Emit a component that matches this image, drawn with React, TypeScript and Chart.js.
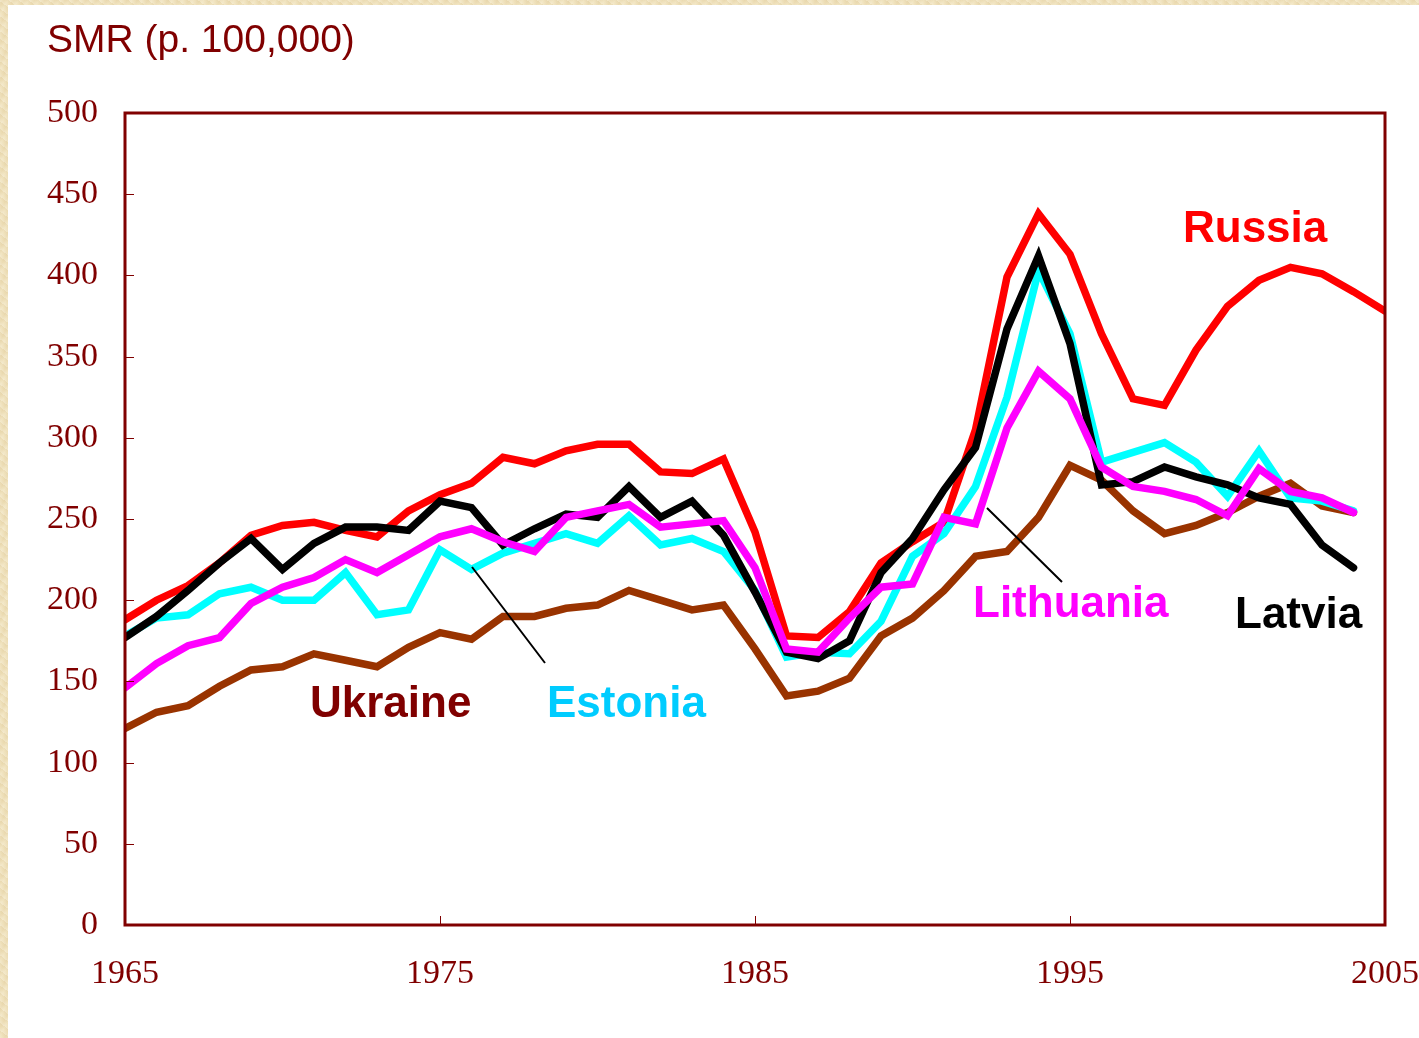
import React, { useEffect, useRef } from "react";
import { Chart, registerables } from "chart.js";

Chart.register(...registerables);

const years = [
  1965, 1966, 1967, 1968, 1969, 1970, 1971, 1972, 1973, 1974,
  1975, 1976, 1977, 1978, 1979, 1980, 1981, 1982, 1983, 1984,
  1985, 1986, 1987, 1988, 1989, 1990, 1991, 1992, 1993, 1994,
  1995, 1996, 1997, 1998, 1999, 2000, 2001, 2002, 2003, 2004, 2005,
];

const russia = [
  188, 200, 209, 223, 240, 246, 248, 243, 239, 255,
  265, 272, 288, 284, 292, 296, 296, 279, 278, 287,
  242, 178, 177, 193, 223, 236, 248, 305, 399, 438,
  413, 364, 324, 320, 354, 381, 397, 405, 401, 390, 378,
];

const latvia = [
  177, 190, 206, 223, 238, 219, 235, 245, 245, 243,
  261, 257, 234, 244, 253, 251, 270, 251, 261, 240,
  205, 168, 164, 175, 217, 238, 268, 294, 367, 412,
  358, 271, 273, 282, 276, 271, 263, 259, 234, 220,
];

const estonia = [
  178, 189, 191, 204, 208, 200, 200, 217, 191, 194,
  231, 219, 229, 235, 241, 235, 252, 234, 238, 230,
  206, 165, 168, 167, 187, 227, 241, 270, 325, 403,
  364, 285, 291, 297, 285, 264, 292, 263, 261, 255,
];

const lithuania = [
  146, 161, 172, 177, 198, 208, 214, 225, 217, 228,
  239, 244, 236, 230, 251, 255, 259, 245, 247, 249,
  220, 170, 168, 189, 208, 210, 251, 247, 306, 341,
  324, 282, 270, 267, 262, 252, 281, 267, 263, 254,
];

const ukraine = [
  121, 131, 135, 147, 157, 159, 167, 163, 159, 171,
  180, 176, 190, 190, 195, 197, 206, 200, 194, 197,
  170, 141, 144, 152, 178, 189, 206, 227, 230, 251,
  283, 274, 255, 241, 246, 254, 264, 272, 258, 254,
];

const yTickMarks = [50, 100, 150, 200, 250, 300, 350, 400, 450];
const xTickMarks = [1975, 1985, 1995];

const AXIS_COLOR = "#800000";

export default function App() {
  const ref = useRef<HTMLCanvasElement>(null);

  useEffect(() => {
    document.body.style.margin = "0";
    const canvas = ref.current;
    if (!canvas) return;

    const pts = (vals: number[]) => vals.map((v, i) => ({ x: years[i], y: v }));

    const overlay = {
      id: "overlay",
      afterDatasetsDraw(chart: any) {
        const { ctx, chartArea } = chart;
        const xs = chart.scales.x;
        const ys = chart.scales.y;
        ctx.save();
        // inward tick marks
        ctx.strokeStyle = AXIS_COLOR;
        ctx.lineWidth = 1;
        ctx.beginPath();
        for (const v of yTickMarks) {
          const py = Math.round(ys.getPixelForValue(v)) + 0.5;
          ctx.moveTo(chartArea.left, py);
          ctx.lineTo(chartArea.left + 9, py);
        }
        for (const v of xTickMarks) {
          const px = Math.round(xs.getPixelForValue(v)) + 0.5;
          ctx.moveTo(px, chartArea.bottom);
          ctx.lineTo(px, chartArea.bottom - 9);
        }
        ctx.stroke();
        // frame
        ctx.lineWidth = 3;
        ctx.strokeRect(chartArea.left, chartArea.top, chartArea.right - chartArea.left, chartArea.bottom - chartArea.top);

        // leader lines
        ctx.strokeStyle = "#000000";
        ctx.lineWidth = 2;
        ctx.beginPath();
        ctx.moveTo(464, 562);
        ctx.lineTo(537, 658);
        ctx.moveTo(979, 503);
        ctx.lineTo(1054, 577);
        ctx.stroke();

        // series labels
        ctx.font = "bold 44px 'Liberation Sans', Arial, sans-serif";
        ctx.textAlign = "left";
        ctx.textBaseline = "alphabetic";
        const labels: [string, string, number, number][] = [
          ["Russia", "#FF0000", 1175, 237],
          ["Latvia", "#000000", 1227, 623],
          ["Lithuania", "#FF00FF", 965, 612],
          ["Ukraine", "#800000", 302, 712],
          ["Estonia", "#00CCFF", 539, 712],
        ];
        for (const [t, c, x, y] of labels) {
          ctx.fillStyle = c;
          ctx.fillText(t, x, y);
        }

        // title
        ctx.font = "39px 'Liberation Sans', Arial, sans-serif";
        ctx.fillStyle = AXIS_COLOR;
        ctx.fillText("SMR (p. 100,000)", 39, 47);
        ctx.restore();
      },
    };

    const line = (label: string, vals: number[], color: string) => ({
      label,
      data: pts(vals),
      borderColor: color,
      backgroundColor: color,
      borderWidth: 7.5,
      pointRadius: 0,
      borderCapStyle: "round" as const,
      borderJoinStyle: "miter" as const,
      tension: 0,
      fill: false,
      clip: 0,
    });

    const chart = new Chart(canvas, {
      type: "line",
      data: {
        datasets: [
          line("Lithuania", lithuania, "#FF00FF"),
          line("Latvia", latvia, "#000000"),
          line("Estonia", estonia, "#00FFFF"),
          line("Russia", russia, "#FF0000"),
          line("Ukraine", ukraine, "#993300"),
        ],
      },
      options: {
        animation: false,
        responsive: false,
        maintainAspectRatio: false,
        layout: { padding: { top: 108, left: 0, right: 34, bottom: 0 } },
        plugins: {
          legend: { display: false },
          tooltip: { enabled: false },
          title: { display: false },
        },
        scales: {
          x: {
            type: "linear",
            min: 1965,
            max: 2005,
            grid: { display: false, drawTicks: false },
            border: { display: false },
            ticks: {
              stepSize: 10,
              color: AXIS_COLOR,
              padding: 29,
              font: { family: "'Liberation Serif', 'Times New Roman', serif", size: 34 },
              callback: (v: any) => String(v),
              maxRotation: 0,
              autoSkip: false,
            },
            afterFit: (s: any) => {
              s.height = 113;
              s.paddingLeft = 0;
              s.paddingRight = 0;
            },
          },
          y: {
            min: 0,
            max: 500,
            grid: { display: false, drawTicks: false },
            border: { display: false },
            ticks: {
              stepSize: 50,
              color: AXIS_COLOR,
              padding: 27,
              font: { family: "'Liberation Serif', 'Times New Roman', serif", size: 34 },
            },
            afterFit: (s: any) => {
              s.width = 117;
              s.paddingTop = 0;
              s.paddingBottom = 0;
            },
          },
        },
      },
      plugins: [overlay],
    });

    return () => chart.destroy();
  }, []);

  return (
    <div
      style={{
        position: "relative",
        width: 1419,
        height: 1038,
        overflow: "hidden",
        backgroundColor: "#efe1bb",
        backgroundImage:
          "repeating-linear-gradient(37deg, rgba(255,255,255,0.18) 0px, rgba(255,255,255,0) 3px, rgba(200,170,110,0.12) 6px), repeating-linear-gradient(-61deg, rgba(255,250,230,0.2) 0px, rgba(210,180,120,0.1) 4px, rgba(255,250,230,0.15) 9px)",
      }}
    >
      <canvas
        ref={ref}
        width={1411}
        height={1033}
        style={{ position: "absolute", left: 8, top: 5, width: 1411, height: 1033, background: "#ffffff" }}
      />
    </div>
  );
}
